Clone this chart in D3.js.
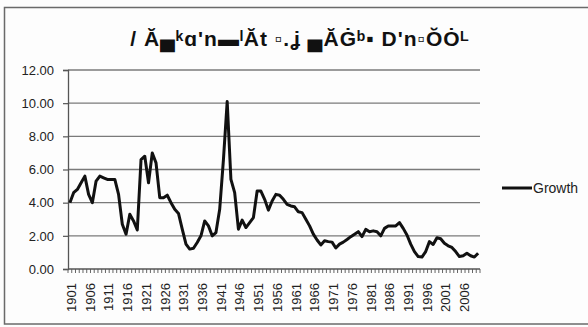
<!DOCTYPE html>
<html>
<head>
<meta charset="utf-8">
<script src="https://cdn.jsdelivr.net/npm/d3@7"></script>
<style>
  html, body { margin: 0; padding: 0; background: #fdfdfd; }
  svg { display: block; font-family: "Liberation Sans", Arial, sans-serif; }
</style>
</head>
<body>
<svg id="chart" width="588" height="327"></svg>
<script>
// Annual growth series, 1901–2010
const years = d3.range(1901, 2011).map(String);
const growth = [
  4.0, 4.6, 4.8, 5.2, 5.6, 4.5, 4.0, 5.3, 5.6, 5.5,
  5.4, 5.4, 5.4, 4.5, 2.7, 2.1, 3.3, 2.9, 2.35, 6.6,
  6.8, 5.2, 7.0, 6.4, 4.3, 4.3, 4.45, 4.0, 3.6, 3.35,
  2.4, 1.5, 1.2, 1.25, 1.6, 2.0, 2.9, 2.6, 2.0, 2.2,
  3.6, 6.6, 10.1, 5.4, 4.6, 2.4, 2.95, 2.5, 2.8, 3.1,
  4.7, 4.7, 4.2, 3.55, 4.1, 4.5, 4.45, 4.2, 3.9, 3.8,
  3.75, 3.45, 3.4, 3.0, 2.6, 2.1, 1.75, 1.45, 1.7, 1.65,
  1.62, 1.27, 1.5, 1.62, 1.78, 1.95, 2.1, 2.25, 1.95, 2.39,
  2.25, 2.3, 2.25, 2.0, 2.45, 2.59, 2.59, 2.6, 2.8, 2.45,
  2.05, 1.5, 1.05, 0.75, 0.72, 1.05, 1.65, 1.48, 1.88, 1.82,
  1.55, 1.4, 1.3, 1.05, 0.75, 0.8, 0.95, 0.8, 0.72, 0.95
];
const yTicks = [0, 2, 4, 6, 8, 10, 12];
const labelYears = years.filter((d, i) => i % 5 === 0);
const seriesName = "Growth";
const titleText = "/ Ă▄ᵏɑ'n▬ˡĂt ▫.ʝ ▄ĂĠᵇ▪ D'n▫ŎȮᴸ";

const svg = d3.select("#chart");

// outer frame
svg.append("rect")
  .attr("x", 4.5).attr("y", 7.5)
  .attr("width", 600).attr("height", 316.5)
  .attr("fill", "#fdfdfd")
  .attr("stroke", "#6a6a6a").attr("stroke-width", 1.5);

const plot = { left: 68, right: 480, top: 70, bottom: 269 };

const x = d3.scaleBand().domain(years).range([plot.left, plot.right]).padding(0);
const y = d3.scaleLinear().domain([0, 12]).range([plot.bottom, plot.top]);

// horizontal gridlines
svg.append("g")
  .selectAll("line")
  .data(yTicks.filter(d => d > 0))
  .join("line")
  .attr("x1", plot.left).attr("x2", plot.right)
  .attr("y1", d => y(d)).attr("y2", d => y(d))
  .attr("stroke", "#7a7a7a").attr("stroke-width", 1.3);

// y axis
const yAxis = svg.append("g")
  .attr("transform", `translate(${plot.left},0)`)
  .call(d3.axisLeft(y).tickValues(yTicks).tickFormat(d3.format(".2f")).tickSize(5).tickPadding(9));
yAxis.select(".domain").attr("stroke", "#555").attr("stroke-width", 1.3);
yAxis.selectAll(".tick line").attr("stroke", "#555").attr("stroke-width", 1.2);
yAxis.selectAll("text")
  .attr("font-size", 13).attr("fill", "#222")
  .style("font-family", "'Liberation Sans', Arial, sans-serif");

// x axis: a tick at every category boundary, labels every five years
const boundaries = years.map(d => x(d)).concat([x(years[years.length - 1]) + x.bandwidth()]);
svg.append("g")
  .selectAll("line")
  .data(boundaries)
  .join("line")
  .attr("x1", d => d).attr("x2", d => d)
  .attr("y1", plot.bottom).attr("y2", plot.bottom + 4)
  .attr("stroke", "#666").attr("stroke-width", 1);

svg.append("line")
  .attr("x1", plot.left).attr("x2", plot.right)
  .attr("y1", plot.bottom).attr("y2", plot.bottom)
  .attr("stroke", "#555").attr("stroke-width", 1.3);

svg.append("g")
  .selectAll("text")
  .data(labelYears)
  .join("text")
  .attr("transform", d => `translate(${x(d) + x.bandwidth() / 2 + 1.5},${plot.bottom + 14}) rotate(-90)`)
  .attr("text-anchor", "end")
  .attr("dy", "0.35em")
  .attr("font-size", 13)
  .attr("fill", "#222")
  .text(d => d);

// growth line
const line = d3.line()
  .x((d, i) => x(years[i]) + x.bandwidth() / 2)
  .y(d => y(d));
svg.append("path")
  .datum(growth)
  .attr("d", line)
  .attr("fill", "none")
  .attr("stroke", "#111")
  .attr("stroke-width", 3)
  .attr("stroke-linejoin", "round");

// legend
const legend = svg.append("g").attr("transform", "translate(502,188)");
legend.append("line")
  .attr("x1", 0).attr("x2", 30).attr("y1", 0).attr("y2", 0)
  .attr("stroke", "#111").attr("stroke-width", 3);
legend.append("text")
  .attr("x", 31).attr("y", 0).attr("dy", "0.35em")
  .attr("font-size", 14).attr("fill", "#222")
  .text(seriesName);

// title
svg.append("text")
  .attr("x", 300).attr("y", 46)
  .attr("text-anchor", "middle")
  .attr("font-size", 21).attr("font-weight", "bold")
  .attr("letter-spacing", 1)
  .attr("fill", "#111")
  .text(titleText);
</script>
</body>
</html>
